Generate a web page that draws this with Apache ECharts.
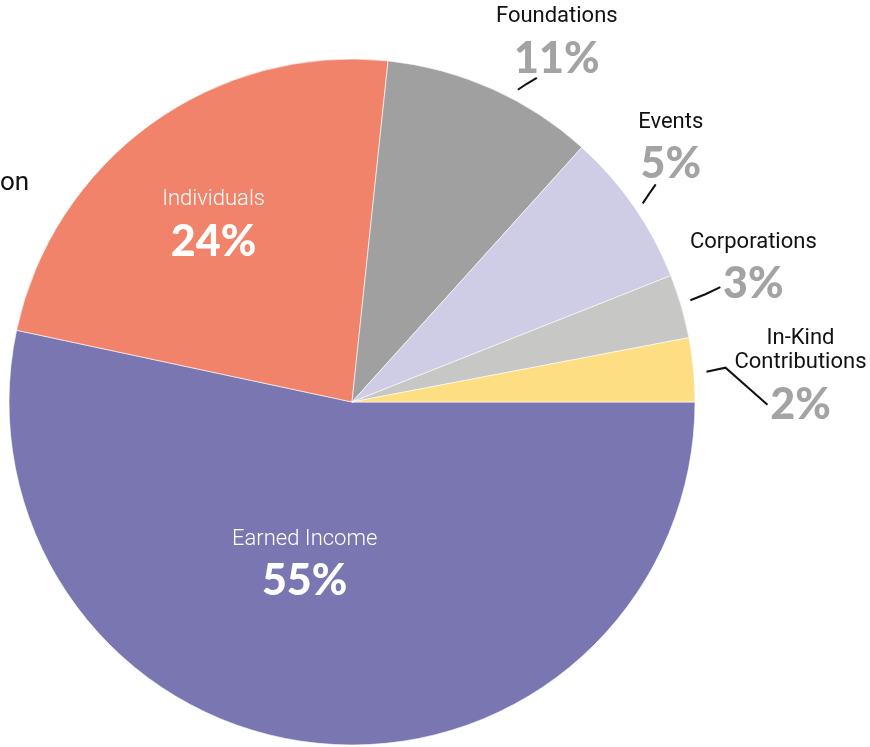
<!DOCTYPE html>
<html>
<head>
<meta charset="utf-8">
<script src="https://cdn.jsdelivr.net/npm/echarts@6/dist/echarts.min.js"></script>
<style>
html, body { margin: 0; padding: 0; background: #fff; }
#main { width: 870px; height: 747px; }
</style>
</head>
<body>
<div id="main"></div>
<script>
// revenue sources, slice sizes as drawn, and the percentages printed on the chart
var sources = ['Earned Income', 'Individuals', 'Foundations', 'Events', 'Corporations', 'In-Kind\nContributions'];
var shares = [53.3, 23.3, 10.0, 7.3, 3.0, 3.0];
var printed = ['55%', '24%', '11%', '5%', '3%', '2%'];

var colors = ['#7a76b2', '#f2836b', '#a0a0a0', '#cfcde6', '#c7c7c5', '#fdde82'];
var cx = 352, cy = 402, R = 343;

// label placement: inside labels get a nudge, outside ones a short leader line
// (offsets relative to the slice edge at its mid angle)
var tweak = [
    { inside: true, dx: -29, dy: -6 },
    { inside: true, dx: -36, dy: -31 },
    { line: [[26, 1], [35, -5], [45, -11]], text: [20, 11] },
    { line: [[9, -3], [15, -12], [22, -22]], text: [15, 10] },
    { line: [[9, -6], [24, -12], [39, -19]], text: [33, 27] },
    { line: [[13, 2], [32, -2], [74, 35]], text: [33, 30] }
];

var total = shares.reduce(function (a, b) { return a + b; }, 0);
function midAngle(i) {
    var before = 0;
    for (var k = 0; k < i; k++) before += shares[k];
    return (before + shares[i] / 2) / total * Math.PI * 2; // clockwise from east
}

var nameFont = 'Roboto, "Open Sans", sans-serif';
var pctFont = 'Lato, Inter, sans-serif';

var richIn = {
    n: { color: '#fff', fontSize: 22, fontWeight: 300, fontFamily: nameFont, lineHeight: 24, align: 'center' },
    p: { color: '#fff', fontSize: 43, fontWeight: 900, fontFamily: pctFont, lineHeight: 60, align: 'center' }
};
var richOut = {
    n: { color: '#111', fontSize: 22, fontWeight: 400, fontFamily: nameFont, lineHeight: 24, align: 'center' },
    p: { color: '#a3a3a3', fontSize: 43, fontWeight: 900, fontFamily: pctFont, lineHeight: 60, align: 'center' }
};

var pieData = sources.map(function (s, i) {
    var inside = tweak[i].inside;
    return {
        name: s,
        value: shares[i],
        itemStyle: { color: colors[i] },
        label: { position: inside ? 'inside' : 'outside', rich: inside ? richIn : richOut },
        labelLine: { show: !inside }
    };
});

var myChart = echarts.init(document.getElementById('main'));
var option = {
    animation: false,
    graphic: [{
        type: 'text',
        left: 0,
        top: 170,
        style: { text: 'on', fill: '#111', font: '400 26px ' + nameFont }
    }],
    series: [{
        type: 'pie',
        center: [cx, cy],
        radius: R,
        startAngle: 0,
        clockwise: true,
        avoidLabelOverlap: false,
        itemStyle: { borderColor: '#fff', borderWidth: 0.6 },
        label: {
            show: true,
            align: 'center',
            formatter: function (p) {
                return '{n|' + p.name + '}\n{p|' + printed[p.dataIndex] + '}';
            }
        },
        labelLine: {
            show: true,
            length: 10,
            length2: 10,
            lineStyle: { color: '#111', width: 2 }
        },
        labelLayout: function (p) {
            var t = tweak[p.dataIndex];
            if (t.inside) {
                return { dx: t.dx, dy: t.dy };
            }
            var a = midAngle(p.dataIndex);
            var ex = cx + R * Math.cos(a), ey = cy + R * Math.sin(a);
            var pts = t.line.map(function (o) { return [ex + o[0], ey + o[1]]; });
            var end = pts[pts.length - 1];
            return {
                x: end[0] + t.text[0],
                y: end[1] + t.text[1],
                align: 'center',
                verticalAlign: 'bottom',
                labelLinePoints: pts
            };
        },
        data: pieData
    }]
};
myChart.setOption(option);
</script>
</body>
</html>
